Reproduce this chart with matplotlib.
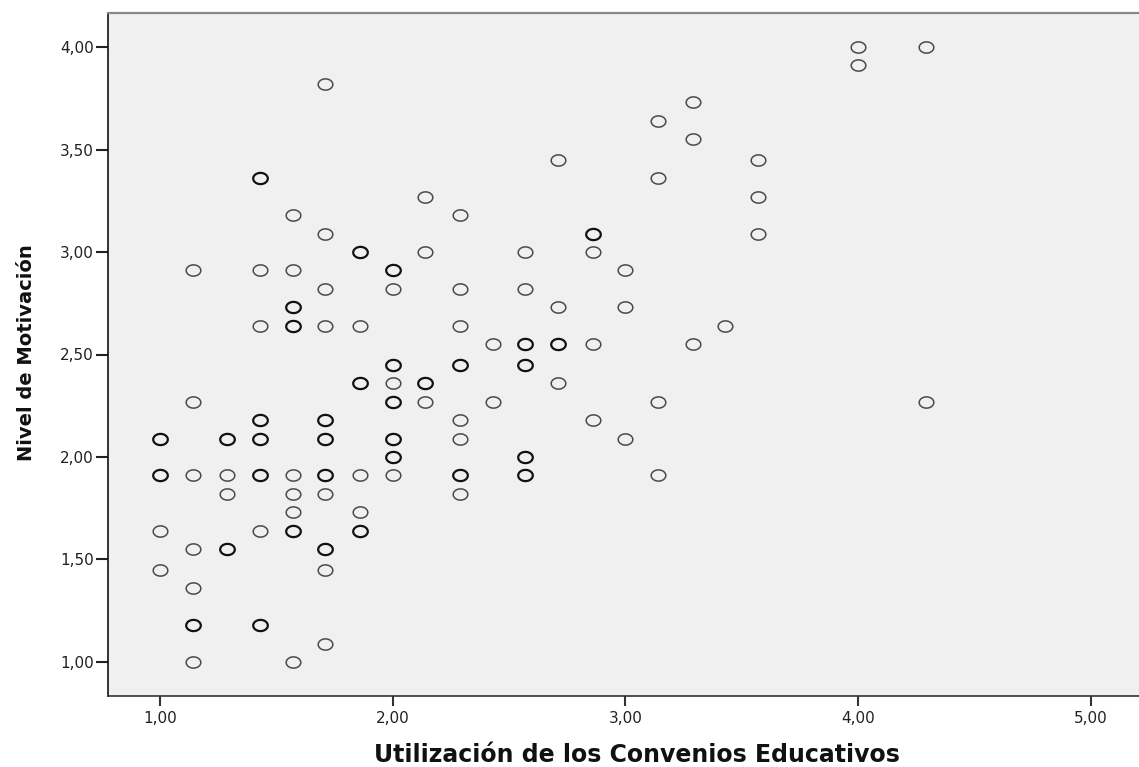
import numpy as np
import matplotlib
matplotlib.use("Agg")
import matplotlib.pyplot as plt
from matplotlib.path import Path
from matplotlib.ticker import FuncFormatter

# casos por columna (x), nivel de motivacion (y), casos repetidos en el mismo punto
utilizacion = [1.00]*4 + [1.14]*7 + [1.29]*4 + [1.43]*8 + [1.57]*9 + [1.71]*11 + \
    [1.86]*6 + [2.00]*8 + [2.14]*4 + [2.29]*8 + [2.43]*2 + [2.57]*6 + [2.71]*4 + \
    [2.86]*4 + [3.00]*3 + [3.14]*4 + [3.29]*3 + [3.43]*1 + [3.57]*3 + [4.00]*2 + [4.29]*2
motivacion = [2.09, 1.91, 1.64, 1.45,
              2.91, 2.27, 1.91, 1.55, 1.36, 1.18, 1.00,
              2.09, 1.91, 1.82, 1.55,
              3.36, 2.91, 2.64, 2.18, 2.09, 1.91, 1.64, 1.18,
              3.18, 2.91, 2.73, 2.64, 1.91, 1.82, 1.73, 1.64, 1.00,
              3.82, 3.09, 2.82, 2.64, 2.18, 2.09, 1.91, 1.82, 1.55, 1.45, 1.09,
              3.00, 2.64, 2.36, 1.91, 1.73, 1.64,
              2.91, 2.82, 2.45, 2.36, 2.27, 2.09, 2.00, 1.91,
              3.27, 3.00, 2.36, 2.27,
              3.18, 2.82, 2.64, 2.45, 2.18, 2.09, 1.91, 1.82,
              2.55, 2.27,
              3.00, 2.82, 2.55, 2.45, 2.00, 1.91,
              3.45, 2.73, 2.55, 2.36,
              3.09, 3.00, 2.55, 2.18,
              2.91, 2.73, 2.09,
              3.64, 3.36, 2.27, 1.91,
              3.73, 3.55, 2.55,
              2.64,
              3.45, 3.27, 3.09,
              4.00, 3.91,
              4.00, 2.27]
casos = [2, 2, 1, 1,
         1, 1, 1, 1, 1, 2, 1,
         2, 1, 1, 2,
         2, 1, 1, 2, 2, 2, 1, 2,
         1, 1, 2, 2, 1, 1, 1, 2, 1,
         1, 1, 1, 1, 2, 2, 2, 1, 2, 1, 1,
         2, 1, 2, 1, 1, 2,
         2, 1, 2, 1, 2, 2, 2, 1,
         1, 1, 2, 1,
         1, 1, 1, 2, 1, 1, 2, 1,
         1, 1,
         1, 1, 2, 2, 2, 2,
         1, 1, 2, 1,
         2, 1, 1, 1,
         1, 1, 1,
         1, 1, 1, 1,
         1, 1, 1,
         1,
         1, 1, 1,
         1, 1,
         1, 1]

x_ticks = [1, 2, 3, 4, 5]
y_ticks = [1.0, 1.5, 2.0, 2.5, 3.0, 3.5, 4.0]

x = np.array(utilizacion)
y = np.array(motivacion)
n = np.array(casos)

# the original picture is stretched sideways, so the circles are slightly wide
t = np.linspace(0, 2*np.pi, 64)
ellipse = Path(np.column_stack([1.3*np.cos(t), np.sin(t)]), closed=True)

fig = plt.figure(figsize=(11.39, 7.67), dpi=100)
ax = fig.add_axes([108/1139, 71/767, 1031/1139, 683/767])
ax.set_facecolor("#f0f0f0")

single = n == 1
ax.plot(x[single], y[single], linestyle="none", marker=ellipse, markersize=10.5,
        markerfacecolor="none", markeredgecolor="#4a4a4a", markeredgewidth=1.1)
ax.plot(x[~single], y[~single], linestyle="none", marker=ellipse, markersize=10.5,
        markerfacecolor="none", markeredgecolor="#111111", markeredgewidth=1.6)

ax.set_xlim(0.7765, 5.207)
ax.set_ylim(0.834, 4.166)
ax.set_xticks(x_ticks)
ax.set_yticks(y_ticks)
fmt = FuncFormatter(lambda v, p: ("%.2f" % v).replace(".", ","))
ax.xaxis.set_major_formatter(fmt)
ax.yaxis.set_major_formatter(fmt)
ax.tick_params(axis="x", direction="out", length=7, width=1.5, color="#333333",
               pad=4, labelsize=11, labelcolor="#222222")
ax.tick_params(axis="y", direction="out", length=8.5, width=1.5, color="#222222",
               pad=1.5, labelsize=11, labelcolor="#222222")

ax.spines["right"].set_visible(False)
ax.spines["top"].set_color("#888888")
ax.spines["top"].set_linewidth(1.6)
ax.spines["left"].set_color("#111111")
ax.spines["left"].set_linewidth(1.2)
ax.spines["bottom"].set_color("#333333")
ax.spines["bottom"].set_linewidth(1.2)

fig.text(27/1139, 1 - 353/767, "Nivel de Motivación", rotation=90, ha="center",
         va="center", fontsize=14, fontweight="bold", color="#111111")
fig.text(637/1139, 1 - 755/767, "Utilización de los Convenios Educativos",
         ha="center", va="center", fontsize=17, fontweight="bold", color="#111111")

fig.savefig("out.png", dpi=100)
